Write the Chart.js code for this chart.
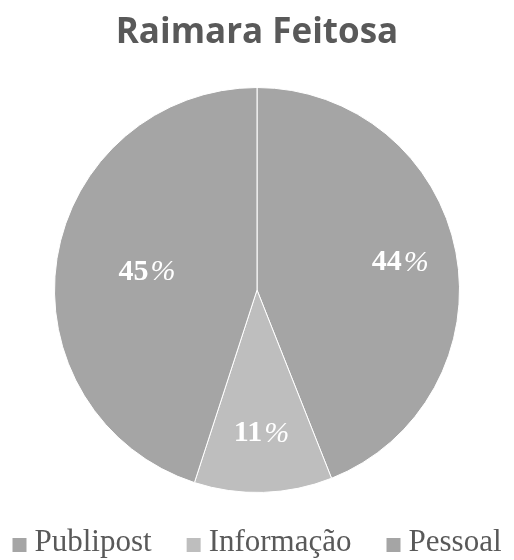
<!DOCTYPE html>
<html>
<head>
<meta charset="utf-8">
<script src="https://cdn.jsdelivr.net/npm/chart.js@4/dist/chart.umd.min.js"></script>
<style>
  html, body { margin: 0; padding: 0; background: #fff; }
  #wrap { width: 514px; height: 560px; position: relative; }
</style>
</head>
<body>
<div id="wrap"><canvas id="c" width="514" height="560"></canvas></div>
<script>
// Share of posts by type
const chartTitle = 'Raimara Feitosa';
const categories = ['Publipost', 'Informação', 'Pessoal'];
const shares = [44, 11, 45];
const sliceColors = ['#a5a5a5', '#bebebe', '#a5a5a5'];
// how far out from the centre each percentage sits (fraction of radius)
const labelRadius = [0.72, 0.71, 0.55];

const LEGEND_FONT = '31px "Liberation Serif", serif';
const PCT_SIZE = 30;

// Percentage labels placed inside each slice along its mid angle
const sliceLabels = {
  id: 'sliceLabels',
  afterDatasetsDraw(chart) {
    const ctx = chart.ctx;
    const meta = chart.getDatasetMeta(0);
    const total = shares.reduce((a, b) => a + b, 0);
    meta.data.forEach((arc, i) => {
      const { x, y, startAngle, endAngle, outerRadius } = arc.getProps(['x', 'y', 'startAngle', 'endAngle', 'outerRadius'], true);
      const mid = (startAngle + endAngle) / 2;
      const r = outerRadius * labelRadius[i];
      const cx = x + Math.cos(mid) * r;
      const cy = y + Math.sin(mid) * r;
      const num = String(Math.round(shares[i] / total * 100));
      const bold = 'bold ' + PCT_SIZE + 'px "Liberation Serif", serif';
      const ital = 'italic ' + PCT_SIZE + 'px "Liberation Serif", serif';
      ctx.save();
      ctx.fillStyle = '#ffffff';
      ctx.textBaseline = 'middle';
      ctx.textAlign = 'left';
      ctx.font = bold;
      const wNum = ctx.measureText(num).width;
      ctx.font = ital;
      const wPct = ctx.measureText('%').width;
      const left = cx - (wNum + wPct + 2) / 2;
      ctx.font = bold;
      ctx.fillText(num, left, cy);
      ctx.font = ital;
      ctx.fillText('%', left + wNum + 2, cy);
      ctx.restore();
    });
  }
};

// Single-row legend under the pie: square swatch + label, centred
const bottomLegend = {
  id: 'bottomLegend',
  afterDraw(chart) {
    const ctx = chart.ctx;
    const area = chart.chartArea;
    const box = 14, gap = 8, spacing = 35;
    ctx.save();
    ctx.font = LEGEND_FONT;
    const widths = categories.map(t => ctx.measureText(t).width);
    const total = widths.reduce((s, w) => s + box + gap + w, 0) + spacing * (categories.length - 1);
    let x = (chart.width - total) / 2;
    const cy = area.bottom + 52;
    ctx.textBaseline = 'middle';
    ctx.textAlign = 'left';
    categories.forEach((t, i) => {
      ctx.fillStyle = sliceColors[i];
      ctx.fillRect(x, cy - box / 2, box, box);
      ctx.fillStyle = '#595959';
      ctx.fillText(t, x + box + gap, cy - 2);
      x += box + gap + widths[i] + spacing;
    });
    ctx.restore();
  }
};

new Chart(document.getElementById('c'), {
  type: 'pie',
  data: {
    labels: categories,
    datasets: [{
      data: shares,
      backgroundColor: sliceColors,
      borderColor: '#ffffff',
      borderWidth: 1
    }]
  },
  options: {
    responsive: false,
    animation: false,
    layout: { padding: { top: 0, bottom: 67, left: 0, right: 0 } },
    plugins: {
      title: {
        display: true,
        text: chartTitle,
        color: '#595959',
        font: { family: '"Open Sans", sans-serif', size: 35, weight: 'bold' },
        padding: { top: 12, bottom: 33 }
      },
      legend: { display: false },
      tooltip: { enabled: false }
    }
  },
  plugins: [sliceLabels, bottomLegend]
});
</script>
</body>
</html>
